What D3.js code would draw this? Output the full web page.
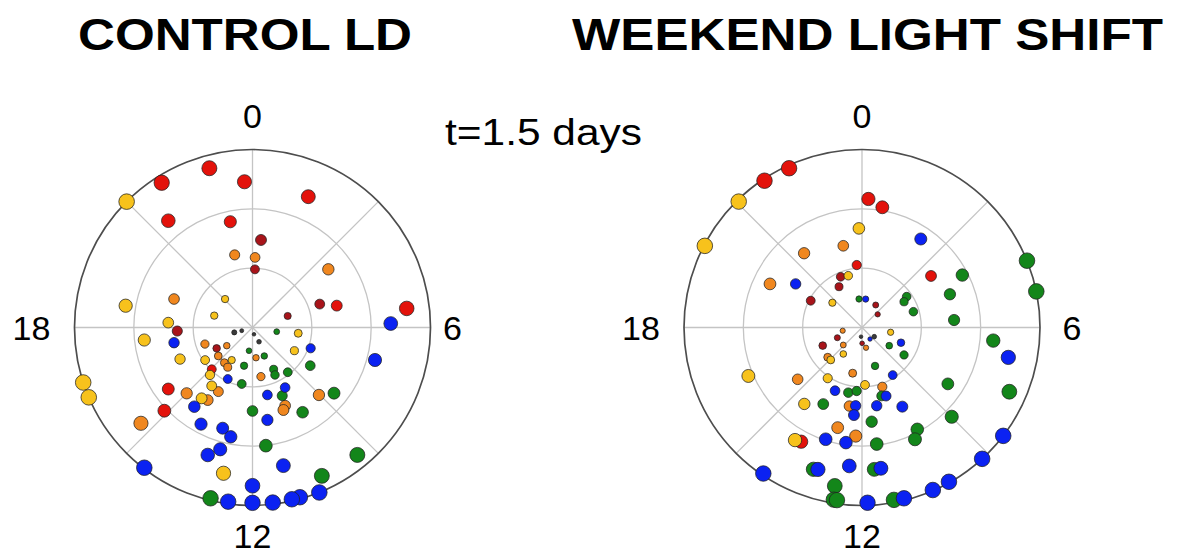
<!DOCTYPE html>
<html>
<head>
<meta charset="utf-8">
<script src="https://cdn.jsdelivr.net/npm/d3@7"></script>
<style>
  html, body { margin: 0; padding: 0; background: #ffffff; }
  svg { display: block; }
  text { font-family: "Liberation Sans", Arial, Helvetica, sans-serif; fill: #000; }
</style>
</head>
<body>
<svg id="chart" width="1181" height="554"></svg>
<script>
// Circadian phase (hours, 0 at top, clockwise) and amplitude (0..1) of each cell.

// Control LD
const controlRed = [[21.86,0.96],[22.99,0.927],[23.79,0.82],[21.45,0.764],[23.21,0.607],[1.54,0.799],
  [5.03,0.489],[5.53,0.873],[14.95,0.328],[15.59,0.586],[15.11,0.681]];
const controlDarkRed = [[0.37,0.494],[0.16,0.327],[4.72,0.40],[4.79,0.208],[17.82,0.423],[15.99,0.233]];
const controlOrange = [[23.08,0.42],[0.14,0.394],[3.5,0.537],[19.33,0.469],[16.72,0.283],[15.65,0.177],
  [15.35,0.25],[14.58,0.253],[14.13,0.263],[13.87,0.408],[15.0,0.523],[14.11,0.479],[11.56,0.171],
  [11.35,0.28],[9.03,0.532],[10.49,0.476],[10.63,0.495],[15.29,0.826]];
const controlYellow = [[21.0,1.0],[18.65,0.723],[21.07,0.222],[19.15,0.225],[18.22,0.474],[6.48,0.259],
  [7.93,0.269],[16.43,0.444],[15.7,0.323],[14.17,0.217],[14.79,0.358],[14.33,0.4],[14.38,0.49],
  [17.56,0.612],[16.8,1.0],[16.46,1.0],[12.75,0.835]];
const controlGreen = [[6.65,0.138],[8.23,0.389],[12.72,0.323],[12.57,0.132],[10.5,0.173],[12.83,0.22],
  [10.21,0.263],[10.31,0.295],[9.45,0.32],[10.43,0.418],[9.96,0.553],[12.0,0.469],[8.59,0.588],
  [11.57,0.668],[9.37,0.927],[10.33,0.92],[12.92,0.988]];
const controlBlue = [[5.89,0.777],[17.27,0.449],[7.31,0.347],[10.1,0.384],[11.17,0.388],[11.39,0.526],
  [14.42,0.552],[13.87,0.615],[13.1,0.59],[13.71,0.321],[6.99,0.712],[11.16,0.795],[10.53,1.0],
  [10.96,0.99],[11.14,0.99],[11.56,0.99],[12.0,0.985],[12.0,0.889],[12.53,0.988],[13.29,0.759],
  [12.99,0.708],[12.75,0.626],[14.51,0.995]];
const controlDark = [[17.0,0.106],[16.9,0.063],[11.17,0.039],[10.36,0.088]];

// Weekend light shift
const shiftRed = [[22.36,0.984],[21.76,0.99],[0.19,0.723],[0.64,0.685],[23.68,0.352],[3.55,0.484],[13.87,0.727]];
const shiftDarkRed = [[22.48,0.309],[22.04,0.263],[19.84,0.325],[2.09,0.148],[3.33,0.115],[16.5,0.15],
  [16.35,0.243],[11.97,0.089]];
const shiftOrange = [[23.14,0.471],[21.47,0.529],[19.69,0.572],[17.37,0.11],[15.13,0.144],[15.27,0.255],
  [12.77,0.262],[15.41,0.464],[10.74,0.352],[12.61,0.447],[12.91,0.579],[12.22,0.611],[11.25,0.116]];
const shiftYellow = [[21.04,0.99],[19.83,0.995],[23.88,0.557],[23.01,0.301],[20.66,0.217],[6.63,0.163],
  [14.35,0.182],[14.93,0.253],[14.27,0.344],[11.8,0.323],[14.47,0.538],[14.05,0.736],[16.46,0.694]];
const shiftGreen = [[23.6,0.161],[4.16,0.636],[4.53,1.0],[5.22,1.0],[4.62,0.528],[3.69,0.305],[3.9,0.277],
  [4.86,0.302],[5.69,0.519],[8.25,0.184],[8.21,0.282],[10.75,0.228],[12.79,0.374],[12.32,0.358],
  [10.93,0.4],[13.79,0.482],[11.61,0.532],[11.52,0.66],[10.1,0.651],[10.31,0.695],[13.26,0.842],
  [11.67,0.8],[12.65,0.903],[12.62,0.98],[12.55,0.98],[11.3,0.985],[6.38,0.741],[8.22,0.577],
  [7.57,0.903],[8.99,0.711]];
const shiftBlue = [[0.49,0.161],[2.24,0.597],[20.22,0.446],[7.42,0.235],[9.81,0.318],[13.54,0.386],
  [10.71,0.408],[12.31,0.441],[11.29,0.447],[10.2,0.499],[12.35,0.494],[13.2,0.66],[12.53,0.653],
  [13.15,0.835],[12.35,0.781],[11.49,0.798],[11.88,0.985],[11.08,0.988],[10.43,0.996],[14.27,0.99],
  [6.77,0.839],[8.5,1.0],[9.17,1.0],[10.04,0.995],[9.68,0.079]];
const shiftDark = [[12.4,0.052],[8.45,0.086]];

const hourLabels = ["0", "6", "12", "18"];
const titles = ["CONTROL LD", "WEEKEND LIGHT SHIFT"];
const timeLabel = "t=1.5 days";

const groupColors = {
  darkRed: "#a8141a", red: "#e3120b", orange: "#f0871f", yellow: "#f7c21c",
  green: "#13861a", blue: "#0b22f2", dark: "#3a3a3a"
};

const panels = [
  { cx: 252.5, cy: 327.5, sixX: 200, series: [
      ["dark", controlDark], ["darkRed", controlDarkRed], ["red", controlRed], ["orange", controlOrange],
      ["yellow", controlYellow], ["green", controlGreen], ["blue", controlBlue]] },
  { cx: 862, cy: 327.5, sixX: 210, series: [
      ["dark", shiftDark], ["darkRed", shiftDarkRed], ["red", shiftRed], ["orange", shiftOrange],
      ["yellow", shiftYellow], ["green", shiftGreen], ["blue", shiftBlue]] }
];

const R = 178;
const svg = d3.select("#chart");
svg.append("rect").attr("width", 1181).attr("height", 554).attr("fill", "#fff");

const angle = d3.scaleLinear().domain([0, 24]).range([0, 2 * Math.PI]);
const radius = d3.scaleLinear().domain([0, 1]).range([0, R]);
const dotSize = d3.scaleSqrt().domain([0, 1]).range([0, 7.8]);

panels.forEach(p => {
  const g = svg.append("g").attr("transform", `translate(${p.cx},${p.cy})`);

  // spokes every 3 hours
  g.selectAll("line.spoke").data(d3.range(0, 24, 3)).join("line")
    .attr("class", "spoke")
    .attr("x1", 0).attr("y1", 0)
    .attr("x2", h => radius(1) * Math.sin(angle(h)))
    .attr("y2", h => -radius(1) * Math.cos(angle(h)))
    .attr("stroke", "#c4c4c4").attr("stroke-width", 1.3);

  // inner rings
  g.selectAll("circle.ring").data([1 / 3, 2 / 3]).join("circle")
    .attr("class", "ring").attr("r", d => radius(d))
    .attr("fill", "none").attr("stroke", "#c4c4c4").attr("stroke-width", 1.3);

  // outer ring
  g.append("circle").attr("r", radius(1))
    .attr("fill", "none").attr("stroke", "#4d4d4d").attr("stroke-width", 1.7);

  // cells
  p.series.forEach(([key, pts]) => {
    g.append("g").selectAll("circle").data(pts).join("circle")
      .attr("cx", d => radius(d[1]) * Math.sin(angle(d[0])))
      .attr("cy", d => -radius(d[1]) * Math.cos(angle(d[0])))
      .attr("r", d => Math.max(1.8, dotSize(d[1])))
      .attr("fill", groupColors[key])
      .attr("stroke", "#222").attr("stroke-opacity", 0.75).attr("stroke-width", 1);
  });

  // hour labels
  g.append("text").text(hourLabels[0]).attr("x", 0).attr("y", -199.5)
    .attr("text-anchor", "middle").attr("font-size", 34);
  g.append("text").text(hourLabels[2]).attr("x", 0).attr("y", 220.5)
    .attr("text-anchor", "middle").attr("font-size", 34);
  g.append("text").text(hourLabels[1]).attr("x", p.sixX).attr("y", 12)
    .attr("text-anchor", "middle").attr("font-size", 34);
  g.append("text").text(hourLabels[3]).attr("x", -221).attr("y", 12)
    .attr("text-anchor", "middle").attr("font-size", 34);
});

svg.append("text").text(titles[0]).attr("x", 78).attr("y", 50)
  .attr("font-size", 45).attr("font-weight", "bold")
  .attr("textLength", 334).attr("lengthAdjust", "spacingAndGlyphs");
svg.append("text").text(titles[1]).attr("x", 572).attr("y", 50)
  .attr("font-size", 45).attr("font-weight", "bold")
  .attr("textLength", 591).attr("lengthAdjust", "spacingAndGlyphs");
svg.append("text").text(timeLabel).attr("x", 445).attr("y", 145)
  .attr("font-size", 37)
  .attr("textLength", 197).attr("lengthAdjust", "spacingAndGlyphs");
</script>
</body>
</html>
